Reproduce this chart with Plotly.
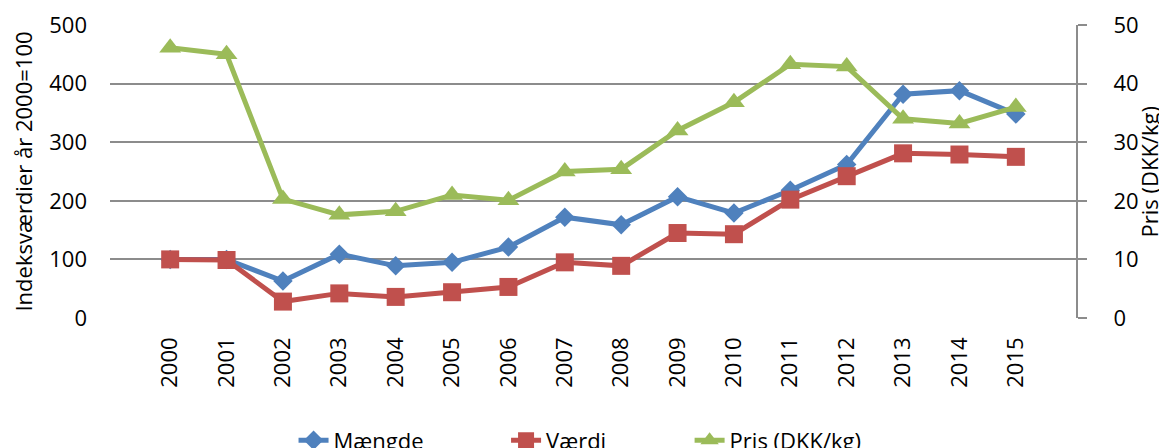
import plotly.graph_objects as go

years = [str(y) for y in range(2000, 2016)]
maengde = [100, 100, 63, 109, 89, 95, 121, 172, 159, 207, 179, 218, 262, 382, 388, 348]
vaerdi = [100, 99, 28, 42, 36, 44, 53, 95, 89, 145, 143, 202, 242, 281, 279, 275]
pris = [46.1, 45.0, 20.3, 17.6, 18.2, 21.0, 20.1, 25.0, 25.4, 32.0, 36.8, 43.3, 42.9, 34.0, 33.2, 36.0]

FONT = "Open Sans"
FS = 22
fig = go.Figure()
fig.add_trace(go.Scatter(x=years, y=maengde, name="Mængde", mode="lines+markers",
                         legend="legend",
                         line=dict(color="#4F81BD", width=5),
                         marker=dict(symbol="diamond", size=15, color="#4F81BD")))
fig.add_trace(go.Scatter(x=years, y=vaerdi, name="Værdi", mode="lines+markers",
                         legend="legend2",
                         line=dict(color="#C0504D", width=5),
                         marker=dict(symbol="square", size=18, color="#C0504D")))
fig.add_trace(go.Scatter(x=years, y=pris, name="Pris (DKK/kg)", mode="lines+markers",
                         yaxis="y2", legend="legend3",
                         line=dict(color="#9BBB59", width=5),
                         marker=dict(symbol="triangle-up", size=19, color="#9BBB59")))


def leg(x):
    return dict(orientation="h", x=x, xanchor="left", yref="container", y=0.017,
                yanchor="middle", font=dict(size=FS), bgcolor="rgba(0,0,0,0)")


# page body has an 8px margin, so the figure is sized/offset to compensate
fig.update_layout(
    width=1159, height=440,
    margin=dict(l=102, r=91, t=17, b=130, autoexpand=False),
    paper_bgcolor="white", plot_bgcolor="white",
    font=dict(family=FONT, size=FS, color="black"),
    xaxis=dict(type="category", tickangle=-90, showgrid=False, showline=False,
               ticks="", tickfont=dict(size=FS), zeroline=False, automargin=False,
               ticklabelstandoff=14),
    yaxis=dict(range=[0, 500], dtick=100, showgrid=True, gridcolor="#8C8C8C", gridwidth=2,
               zeroline=False, showline=False, ticks="", automargin=False,
               ticklabelstandoff=22,
               title=dict(text="Indeksværdier år 2000=100", font=dict(size=FS), standoff=10),
               tickfont=dict(size=FS)),
    yaxis2=dict(range=[0, 50], dtick=10, overlaying="y", side="right", showgrid=False,
                zeroline=False, showline=True, linecolor="#8C8C8C", linewidth=2,
                ticks="outside", ticklen=9, tickwidth=2, tickcolor="#8C8C8C",
                automargin=False, ticklabelstandoff=22,
                tickfont=dict(size=FS)),
    annotations=[dict(text="Pris (DKK/kg)", textangle=-90, xref="paper", yref="paper",
                      x=1.0755, y=0.5, xanchor="center", yanchor="middle",
                      showarrow=False, font=dict(size=FS))],
    legend=leg(0.19),
    legend2=leg(0.41),
    legend3=leg(0.60),
    showlegend=True,
)

fig.write_html("out.html")
